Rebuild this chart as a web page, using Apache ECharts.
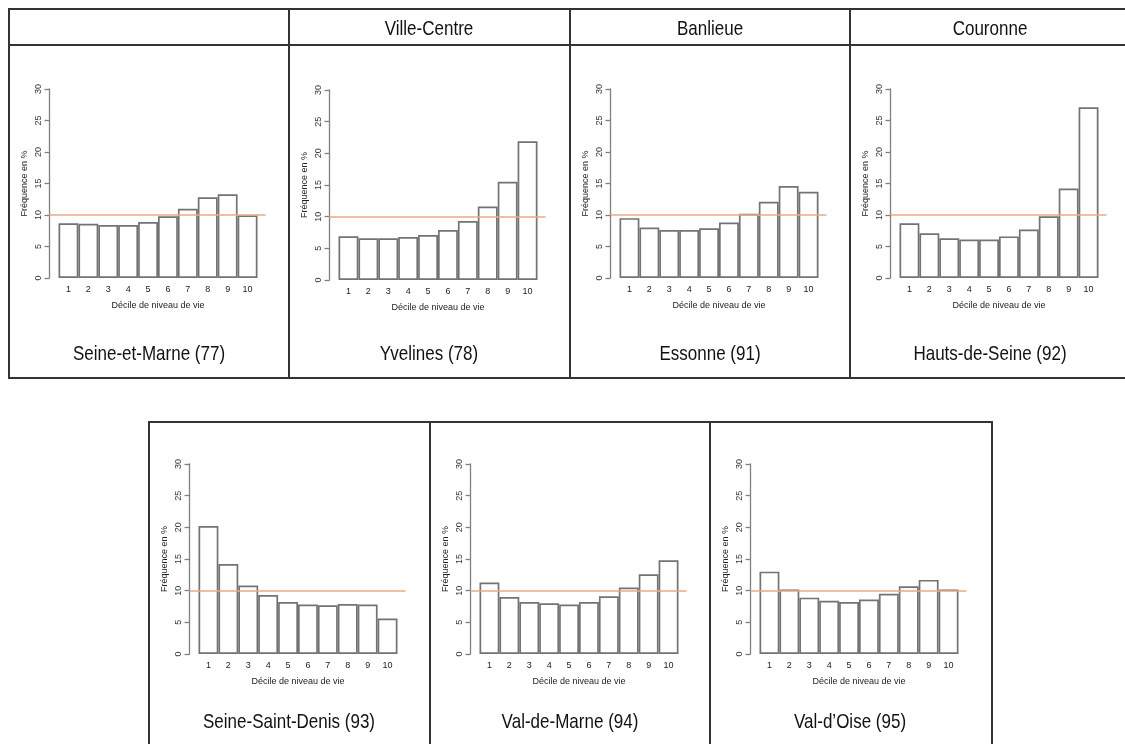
<!DOCTYPE html>
<html>
<head>
<meta charset="utf-8">
<script src="https://cdn.jsdelivr.net/npm/echarts@6/dist/echarts.min.js"></script>
<style>
html,body{margin:0;padding:0;background:#fff;}
#main{width:1125px;height:744px;}
</style>
</head>
<body>
<div id="main"></div>
<script>
// deciles de niveau de vie
var deciles = ['1','2','3','4','5','6','7','8','9','10'];
var refLevel = 10;   // 10 % = repartition uniforme

// frequences en % par departement
var seineEtMarne    = [8.7, 8.6, 8.4, 8.4, 8.9, 9.8, 11.0, 12.8, 13.3, 9.95];
var yvelines        = [6.9, 6.6, 6.6, 6.8, 7.1, 7.9, 9.3, 11.6, 15.5, 21.9];
var essonne         = [9.5, 8.0, 7.6, 7.6, 7.9, 8.8, 10.2, 12.1, 14.6, 13.7];
var hautsDeSeine    = [8.7, 7.1, 6.3, 6.1, 6.1, 6.6, 7.7, 9.8, 14.2, 27.1];
var seineSaintDenis = [20.2, 14.2, 10.8, 9.3, 8.2, 7.8, 7.7, 7.9, 7.8, 5.6];
var valDeMarne      = [11.3, 9.0, 8.2, 8.0, 7.8, 8.2, 9.1, 10.5, 12.6, 14.8];
var valDOise        = [13.0, 10.2, 8.9, 8.4, 8.2, 8.6, 9.5, 10.7, 11.7, 10.2];

var colHeaders = ['', 'Ville-Centre', 'Banlieue', 'Couronne'];
var panelNames = ['Seine-et-Marne (77)', 'Yvelines (78)', 'Essonne (91)', 'Hauts-de-Seine (92)',
                  'Seine-Saint-Denis (93)', 'Val-de-Marne (94)', 'Val-d\u2019Oise (95)'];
var panelData  = [seineEtMarne, yvelines, essonne, hautsDeSeine, seineSaintDenis, valDeMarne, valDOise];

// mise en page (pixels)
var cellLeft = [9, 289, 570, 850, 149, 430, 710];
var cellW = 280;
var rowTop30 = [89, 90, 89, 89, 464, 464, 464];
var rowZero  = [278, 280, 278, 278, 654, 654, 654];
var footY    = [354, 354, 354, 354, 722, 722, 722];

var fontFam = 'Liberation Sans, Arial, Helvetica, sans-serif';
var lineCol = '#333';

var grids = [], xAxes = [], yAxes = [], series = [], graphics = [];

for (var i = 0; i < panelData.length; i++) {
    var L = cellLeft[i];
    var gTop = rowTop30[i];
    var gH = rowZero[i] - rowTop30[i];
    var a = 2 * i, b = 2 * i + 1;

    // grille A : axe y + ligne de reference
    grids.push({left: L + 40.5, top: gTop, width: 216, height: gH});
    // grille B : barres
    grids.push({left: L + 49.5, top: gTop, width: 199, height: gH});

    xAxes.push({gridIndex: a, type: 'value', min: 0, max: 1, show: false});
    yAxes.push({
        gridIndex: a, type: 'value', min: 0, max: 30, interval: 5,
        axisLine: {show: true, lineStyle: {color: '#808080', width: 1.3}},
        axisTick: {show: true, length: 5, lineStyle: {color: '#808080', width: 1.3}},
        axisLabel: {rotate: 90, margin: 6, fontSize: 9, color: '#333', fontFamily: fontFam},
        splitLine: {show: false},
        name: 'Fréquence en %', nameLocation: 'middle', nameGap: 20,
        nameTextStyle: {fontSize: 9, color: '#222', fontFamily: fontFam}
    });

    xAxes.push({
        gridIndex: b, type: 'category', data: deciles,
        axisLine: {show: false}, axisTick: {show: false},
        axisLabel: {interval: 0, margin: 7, fontSize: 9, color: '#222', fontFamily: fontFam},
        name: 'Décile de niveau de vie', nameLocation: 'middle', nameGap: 23,
        nameTextStyle: {fontSize: 9, color: '#222', fontFamily: fontFam}
    });
    yAxes.push({gridIndex: b, type: 'value', min: 0, max: 30, show: false});

    series.push({
        type: 'bar', xAxisIndex: b, yAxisIndex: b, data: panelData[i],
        barCategoryGap: '0%', silent: true, z: 2,
        itemStyle: {color: '#fff', borderColor: '#737373', borderWidth: 1.7}
    });
    series.push({
        type: 'line', xAxisIndex: a, yAxisIndex: a, data: [], z: 5,
        markLine: {
            silent: true, symbol: ['none', 'none'], label: {show: false},
            lineStyle: {color: '#e6ab86', width: 1.5, type: 'solid'},
            data: [{yAxis: refLevel}]
        }
    });

    // nom du departement
    graphics.push({
        type: 'text', x: L + cellW / 2, y: footY[i], scaleX: 0.81,
        style: {text: panelNames[i], fontSize: 21, fontFamily: fontFam, fill: '#111',
                align: 'center', verticalAlign: 'middle'}
    });
}

// en-tetes du tableau du haut
for (var j = 0; j < colHeaders.length; j++) {
    graphics.push({
        type: 'text', x: cellLeft[j] + cellW / 2, y: 29.5, scaleX: 0.81,
        style: {text: colHeaders[j], fontSize: 21, fontFamily: fontFam, fill: '#111',
                align: 'center', verticalAlign: 'middle'}
    });
}

// traits du tableau du haut
graphics.push({type: 'rect', shape: {x: 9, y: 9, width: 1130, height: 369},
               style: {fill: 'none', stroke: lineCol, lineWidth: 2}});
graphics.push({type: 'line', shape: {x1: 9, y1: 45, x2: 1130, y2: 45},
               style: {stroke: lineCol, lineWidth: 2}});
[289, 570, 850].forEach(function (x) {
    graphics.push({type: 'line', shape: {x1: x, y1: 9, x2: x, y2: 378},
                   style: {stroke: lineCol, lineWidth: 2}});
});
// traits du tableau du bas
graphics.push({type: 'rect', shape: {x: 149, y: 422, width: 843, height: 340},
               style: {fill: 'none', stroke: lineCol, lineWidth: 2}});
[430, 710].forEach(function (x) {
    graphics.push({type: 'line', shape: {x1: x, y1: 422, x2: x, y2: 760},
                   style: {stroke: lineCol, lineWidth: 2}});
});

var myChart = echarts.init(document.getElementById('main'));
var option = {
    animation: false,
    grid: grids,
    xAxis: xAxes,
    yAxis: yAxes,
    series: series,
    graphic: graphics
};
myChart.setOption(option);
</script>
</body>
</html>
